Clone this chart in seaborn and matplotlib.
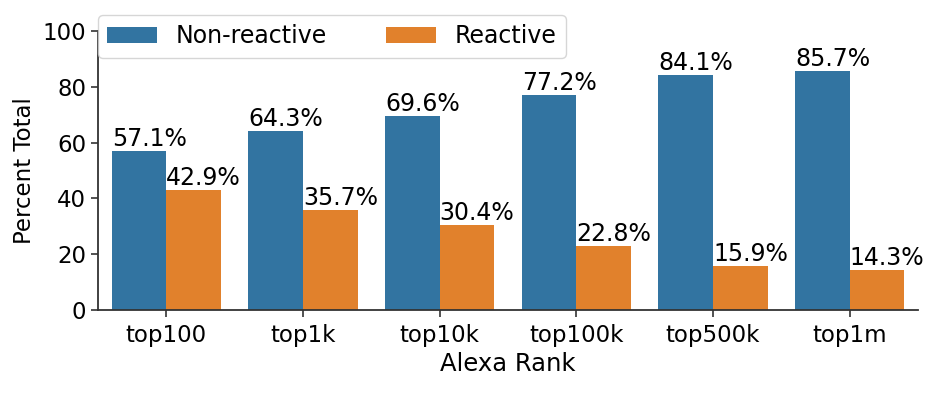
import matplotlib
matplotlib.use("Agg")
import matplotlib.pyplot as plt
import seaborn as sns
import pandas as pd

categories = ["top100", "top1k", "top10k", "top100k", "top500k", "top1m"]
non_reactive = [57.1, 64.3, 69.6, 77.2, 84.1, 85.7]
reactive = [42.9, 35.7, 30.4, 22.8, 15.9, 14.3]
series_names = ["Non-reactive", "Reactive"]

df = pd.DataFrame({
    "Alexa Rank": categories * 2,
    "Percent Total": non_reactive + reactive,
    "Type": [series_names[0]] * len(categories) + [series_names[1]] * len(categories),
})

sns.set_style("ticks")
plt.rcParams['font.family'] = ['DejaVu Sans']
plt.rcParams['text.color'] = 'black'
plt.rcParams['axes.labelcolor'] = 'black'
plt.rcParams['xtick.color'] = '#333333'
plt.rcParams['ytick.color'] = '#333333'
plt.rcParams['xtick.labelcolor'] = 'black'
plt.rcParams['ytick.labelcolor'] = 'black'
plt.rcParams['axes.edgecolor'] = '#333333'

fig = plt.figure(figsize=(9.46, 3.96), dpi=100)
ax = fig.add_axes([98/946, 86/396, 820/946, 279/396])

sns.barplot(data=df, x="Alexa Rank", y="Percent Total", hue="Type",
            order=categories, hue_order=series_names, ax=ax, linewidth=0)

for container in ax.containers:
    for bar in container:
        h = bar.get_height()
        ax.text(bar.get_x(), h, f"{h:.1f}%", ha="left", va="bottom",
                fontsize=17, color="black")

ax.set_ylim(0, 100)
ax.set_yticks([0, 20, 40, 60, 80, 100])
ax.tick_params(axis="both", labelsize=16.5, length=5, width=1.2)
ax.tick_params(axis="x", pad=5)
ax.set_xlabel("Alexa Rank", fontsize=17.5, labelpad=4)
ax.set_ylabel("Percent Total", fontsize=16.5, labelpad=5)
for s in ax.spines.values():
    s.set_linewidth(1.3)
sns.despine(ax=ax)

leg = ax.legend(loc="upper left", bbox_to_anchor=(98/946, 1 - 15/396),
                bbox_transform=fig.transFigure, ncol=2, fontsize=17,
                borderaxespad=0, frameon=True, title=None,
                handlelength=2.1, handleheight=0.7, columnspacing=2.5)

fig.savefig("out.png", dpi=100)
